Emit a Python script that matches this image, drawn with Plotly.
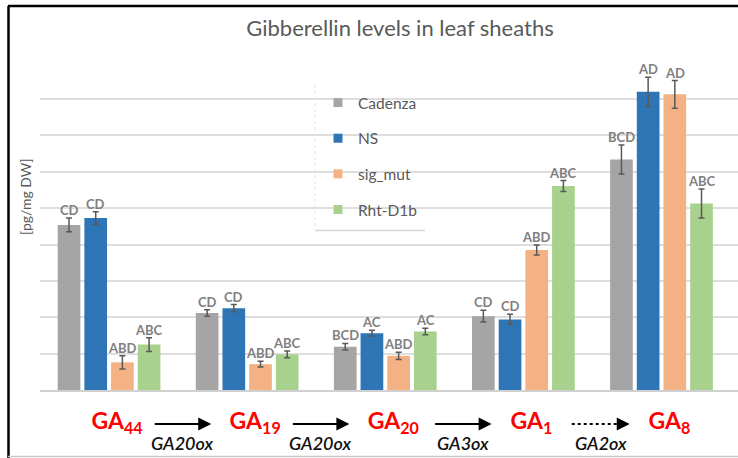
import plotly.graph_objects as go

# ---------------- data ----------------
categories = ["GA44", "GA19", "GA20", "GA1", "GA8"]
tick_labels = ["GA<sub>44</sub>", "GA<sub>19</sub>", "GA<sub>20</sub>", "GA<sub>1</sub>", "GA<sub>8</sub>"]
series_names = ["Cadenza", "NS", "sig_mut", "Rht-D1b"]

cadenza = [4.54, 2.12, 1.19, 2.03, 6.34]
ns = [4.73, 2.25, 1.56, 1.94, 8.20]
sig_mut = [0.76, 0.71, 0.94, 3.85, 8.13]
rht_d1b = [1.25, 0.98, 1.61, 5.61, 5.13]

cadenza_err = [0.19, 0.09, 0.09, 0.16, 0.40]
ns_err = [0.17, 0.10, 0.08, 0.14, 0.40]
sig_mut_err = [0.18, 0.08, 0.10, 0.14, 0.38]
rht_d1b_err = [0.19, 0.09, 0.09, 0.15, 0.40]

cadenza_sig = ["CD", "CD", "BCD", "CD", "BCD"]
ns_sig = ["CD", "CD", "AC", "CD", "AD"]
sig_mut_sig = ["ABD", "ABD", "ABD", "ABD", "AD"]
rht_d1b_sig = ["ABC", "ABC", "AC", "ABC", "ABC"]

enzymes = ["GA20ox", "GA20ox", "GA3ox", "GA2ox"]
enzyme_dotted = [False, False, False, True]

# ---------------- style ----------------
colors = ["#a5a5a5", "#2e75b6", "#f4b183", "#a9d18e"]
FONT = "Lato"
GRAY = "#595959"
W, H = 738, 458
ML, MR, MT, MB = 40, 0, 62, 68
PL, PR, PT, PB = ML, W - MR, MT, H - MB
BARGAP, GROUPGAP = 0.227, 0.15


def px_x(px):
    return (px - PL) / (PR - PL)


def px_y(py):
    return (PB - py) / (PB - PT)


values = [cadenza, ns, sig_mut, rht_d1b]
errors = [cadenza_err, ns_err, sig_mut_err, rht_d1b_err]
sigs = [cadenza_sig, ns_sig, sig_mut_sig, rht_d1b_sig]

fig = go.Figure()
for name, vals, errs, col in zip(series_names, values, errors, colors):
    fig.add_trace(go.Bar(
        x=categories, y=vals, name=name, marker=dict(color=col, line=dict(width=0)),
        error_y=dict(type="data", array=errs, color=GRAY, thickness=1.5, width=3),
        showlegend=False,
    ))
# legend entries (small squares)
for name, col in zip(series_names, colors):
    fig.add_trace(go.Scatter(
        x=[None], y=[None], mode="markers", name=name, legendgroup=name,
        marker=dict(symbol="square", size=9, color=col), showlegend=True,
    ))

annotations = []
# significance letters above error bars
slot = 1 - BARGAP
n = len(series_names)
for j, (vals, errs, letters) in enumerate(zip(values, errors, sigs)):
    off = -slot / 2 + slot / n * (j + 0.5)
    for i in range(len(categories)):
        annotations.append(dict(
            x=i + off, y=vals[i] + errs[i], xref="x", yref="y", text=letters[i],
            showarrow=False, yanchor="bottom", yshift=-2,
            font=dict(family=FONT, size=13, color="#7f7f7f", weight="bold"),
        ))

# pathway arrows and enzyme labels between categories
arrow_y = px_y(424)
for i, (enz, dotted) in enumerate(zip(enzymes, enzyme_dotted)):
    mid = i + 0.5 + (0.06 if i >= 2 else 0.03)
    x0, x1 = mid - 0.21, mid + 0.21
    if dotted:
        fig.add_shape(type="line", xref="x", yref="paper", x0=x0, x1=x1 - 0.05,
                      y0=arrow_y, y1=arrow_y, line=dict(color="black", width=2, dash="dot"))
        annotations.append(dict(x=x1, y=arrow_y, xref="x", yref="paper", ax=x1 - 0.06, ay=0,
                                axref="x", ayref="pixel", text="", showarrow=True,
                                arrowhead=2, arrowsize=1.3, arrowwidth=2, arrowcolor="black"))
    else:
        annotations.append(dict(x=x1, y=arrow_y, xref="x", yref="paper", ax=x0, ay=0,
                                axref="x", ayref="pixel", text="", showarrow=True,
                                arrowhead=2, arrowsize=1.3, arrowwidth=2, arrowcolor="black"))
    annotations.append(dict(x=mid, y=px_y(443), xref="x", yref="paper", text=enz,
                            showarrow=False, xanchor="center", yanchor="middle",
                            font=dict(family=FONT, size=18, color="#111111", style="italic",
                                      weight=600)))

# y axis title
annotations.append(dict(x=px_x(25), y=px_y(197), xref="paper", yref="paper",
                        text="[pg/mg DW]", textangle=-90, showarrow=False,
                        xanchor="center", yanchor="middle",
                        font=dict(family=FONT, size=14, color=GRAY)))

shapes = [
    # legend background mask
    dict(type="rect", xref="paper", yref="paper", x0=px_x(315), x1=px_x(442),
         y0=px_y(75), y1=px_y(231), fillcolor="white", line=dict(width=0), layer="above"),
    dict(type="line", xref="paper", yref="paper", x0=px_x(315), x1=px_x(425),
         y0=px_y(230.5), y1=px_y(230.5), line=dict(color="#d6d6d6", width=1.5)),
    dict(type="line", xref="paper", yref="paper", x0=px_x(315), x1=px_x(315),
         y0=px_y(85), y1=px_y(230), line=dict(color="#e4e4e4", width=1, dash="dot")),
    # outer frame
    dict(type="line", xref="paper", yref="paper", x0=px_x(8), x1=px_x(738),
         y0=px_y(6), y1=px_y(6), line=dict(color="black", width=2.5)),
    dict(type="line", xref="paper", yref="paper", x0=px_x(8.5), x1=px_x(8.5),
         y0=px_y(6), y1=px_y(458), line=dict(color="black", width=2.5)),
    dict(type="line", xref="paper", yref="paper", x0=px_x(8), x1=px_x(738),
         y0=px_y(456.5), y1=px_y(456.5), line=dict(color="#c8c8c8", width=1.5)),
]

fig.update_layout(
    width=W, height=H,
    margin=dict(l=ML, r=MR, t=MT, b=MB),
    paper_bgcolor="white", plot_bgcolor="white",
    barmode="group", bargap=BARGAP, bargroupgap=GROUPGAP,
    title=dict(text="Gibberellin levels in leaf sheaths", x=400 / W, xanchor="center",
               y=1 - 28 / H, yanchor="middle",
               font=dict(family=FONT, size=22, color=GRAY)),
    font=dict(family=FONT, color=GRAY),
    showlegend=True,
    legend=dict(x=px_x(318), y=px_y(86), xanchor="left", yanchor="top",
                bgcolor="rgba(0,0,0,0)", borderwidth=0, tracegroupgap=12.5,
                font=dict(family=FONT, size=15.5, color=GRAY)),
    xaxis=dict(type="category", range=[-0.5, 4.554], showgrid=False, showline=True,
               linecolor="#d0d0d0", linewidth=1.5, ticks="",
               tickmode="array", tickvals=categories, ticktext=tick_labels,
               tickfont=dict(family=FONT, size=23, color="red", weight="bold"),
               ticklabelstandoff=10, ticklabelshift=8, fixedrange=True),
    yaxis=dict(range=[0, 9.02], dtick=1, showgrid=True, gridcolor="#dedede", gridwidth=1.5,
               showticklabels=False, zeroline=False, showline=False, ticks="",
               fixedrange=True),
)
fig.update_layout(annotations=annotations, shapes=shapes)

fig.write_html("out.html", config={"displayModeBar": False},
               post_script="document.body.style.margin='0px';document.body.style.overflow='hidden';")
